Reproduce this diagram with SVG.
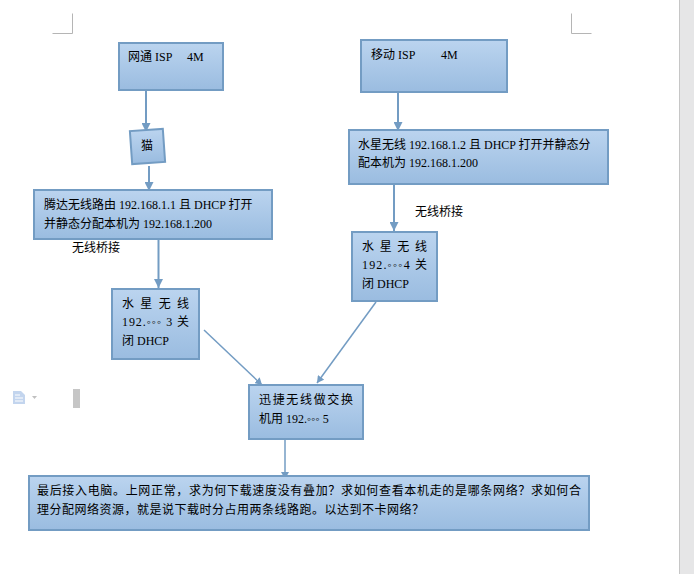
<svg xmlns="http://www.w3.org/2000/svg" width="694" height="574" viewBox="0 0 694 574">
<style>
.b{fill:url(#g);stroke:#739cc3;stroke-width:2}
.c{stroke:#739cc3;stroke-width:2;fill:none;marker-end:url(#a)}
.t{stroke:#739cc3;stroke-width:1.5;fill:none;marker-end:url(#a2)}
.m{stroke:#b5b5b5;stroke-width:1;fill:none}
text{font-family:"Liberation Serif","Noto Sans CJK SC",serif;font-size:12px;fill:#000}
.w{font-size:12px}
</style>
<defs>
<linearGradient id="g" x1="0" y1="0" x2="0" y2="1"><stop offset="0" stop-color="#bbd4ef"/><stop offset="1" stop-color="#9abce0"/></linearGradient>
<marker id="a" markerUnits="userSpaceOnUse" markerWidth="10" markerHeight="9" refX="9" refY="4.5" orient="auto"><path d="M0 0L9 4.5L0 9z" fill="#739cc3"/></marker>
<marker id="a2" markerUnits="userSpaceOnUse" markerWidth="8" markerHeight="8" refX="7" refY="4" orient="auto"><path d="M0 0L7 4L0 8z" fill="#739cc3"/></marker>
</defs>
<rect width="694" height="574" fill="#fff"/>
<rect x="680" y="0" width="14" height="574" fill="#e6e6e7"/>
<path d="M679.500 0V574" stroke="#c6c6c6" fill="none"/>
<g id="page-marks">
<path class="m" d="M52.500 33.500H72.500V13.500"/>
<path class="m" d="M571.500 13.500V33.500H591.500"/>
<rect x="73" y="389" width="7" height="19" fill="#c6c6c6"/>
<path d="M13 391H21L25 395V404H13z" fill="#c3d5ee"/>
<path d="M15 395H20M15 398H23M15 401H23" stroke="#fff" fill="none"/>
<path d="M32 396H37L34.500 399z" fill="#c0c0c0"/>
</g>
<g id="connectors">
<path class="c" d="M146 91V132"/>
<path class="c" d="M149 166V191"/>
<path class="c" d="M158.500 240V288"/>
<path class="c" d="M398 92V131"/>
<path class="c" d="M394 184V231"/>
<path class="t" d="M204 330L262 385"/>
<path class="t" d="M376 302L317 383"/>
<path class="t" d="M285 433V479"/>
</g>
<g id="n1"><rect class="b" x="119" y="43" width="104" height="47"/><text x="128" y="61">网通 ISP</text><text x="187" y="61">4M</text></g>
<g id="n2"><rect class="b" x="361" y="40" width="146" height="52"/><text x="371" y="59">移动 ISP</text><text x="441" y="59">4M</text></g>
<g id="n3"><rect class="b" x="131" y="130" width="33" height="33" transform="rotate(-4 147.500 146.500)" stroke-width="1.500"/><text x="141" y="150">猫</text></g>
<g id="n4"><rect class="b" x="34" y="190" width="238" height="49"/><text x="44" y="209">腾达无线路由 192.168.1.1 且 DHCP 打开</text><text x="44" y="228">并静态分配本机为 192.168.1.200</text></g>
<g id="n5"><rect class="b" x="349" y="130" width="259" height="54"/><text x="358" y="149">水星无线 192.168.1.2 且 DHCP 打开并静态分</text><text x="358" y="167">配本机为 192.168.1.200</text></g>
<g id="n6"><rect class="b" x="352" y="232" width="85" height="69"/><text x="362" y="251" textLength="65">水 星 无 线</text><text x="362" y="269" textLength="65">192.◦◦◦4 关</text><text x="362" y="288">闭 DHCP</text></g>
<g id="n7"><rect class="b" x="112" y="289" width="87" height="70"/><text x="122" y="308" textLength="67">水 星 无 线</text><text x="122" y="326" textLength="67">192.◦◦◦ 3 关</text><text x="122" y="345">闭 DHCP</text></g>
<g id="n8"><rect class="b" x="249" y="385" width="114" height="54"/><text x="259" y="404" textLength="94">迅捷无线做交换</text><text x="259" y="423">机用 192.◦◦◦ 5</text></g>
<g id="n9"><rect class="b" x="29" y="476" width="560" height="54"/><text x="37" y="495" textLength="544">最后接入电脑。上网正常，求为何下载速度没有叠加？求如何查看本机走的是哪条网络？求如何合</text><text x="37" y="514" textLength="387">理分配网络资源，就是说下载时分占用两条线路跑。以达到不卡网络？</text></g>
<g id="labels"><text x="72" y="252">无线桥接</text><text x="415" y="216">无线桥接</text></g>
</svg>
